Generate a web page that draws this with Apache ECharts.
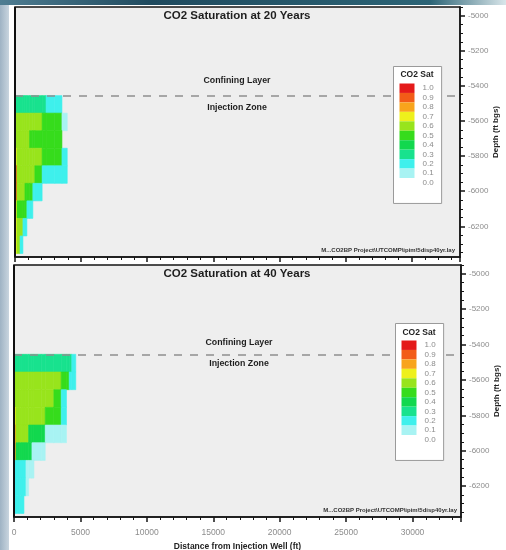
<!DOCTYPE html>
<html><head><meta charset="utf-8">
<script src="https://cdn.jsdelivr.net/npm/echarts@6/dist/echarts.min.js"></script>
<style>html,body{margin:0;padding:0;background:#fff}#c{width:506px;height:550px}</style>
</head><body><div id="c"></div>
<script>
// ---- data ----
const titles = ['CO2 Saturation at 20 Years', 'CO2 Saturation at 40 Years'];
const colEdges = [0, 150, 380, 600, 750, 900, 1100, 1350, 1500, 2050, 2350, 3000, 3550, 3950, 4150, 4350, 4650]; // ft from well
const layerEdges = [-5455, -5555, -5655, -5755, -5855, -5955, -6055, -6155, -6255, -6355]; // depth ft bgs
const confiningDepth = -5455;
const sat20 = [
  [0.3,0.3,0.3,0.3,0.3,0.3,0.3,0.3,0.3,0.3,0.2,0.2,0,0,0,0],
  [0.6,0.6,0.6,0.6,0.6,0.6,0.6,0.6,0.6,0.5,0.5,0.5,0.1,0,0,0],
  [0.6,0.6,0.6,0.6,0.6,0.6,0.5,0.5,0.5,0.5,0.5,0.5,0,0,0,0],
  [0.7,0.6,0.6,0.6,0.6,0.6,0.6,0.6,0.6,0.5,0.5,0.5,0.2,0,0,0],
  [0.9,0.6,0.6,0.6,0.6,0.6,0.6,0.6,0.5,0.2,0.2,0.2,0.2,0,0,0],
  [0.9,0.6,0.6,0.6,0.5,0.5,0.5,0.2,0.2,0,0,0,0,0,0,0],
  [0.7,0.5,0.5,0.5,0.5,0.2,0.2,0,0,0,0,0,0,0,0,0],
  [0.7,0.6,0.6,0.2,0.2,0,0,0,0,0,0,0,0,0,0,0],
  [0.7,0.6,0.2,0,0,0,0,0,0,0,0,0,0,0,0,0]
];
const sat40 = [
  [0.3,0.3,0.3,0.3,0.3,0.3,0.3,0.3,0.3,0.3,0.3,0.3,0.3,0.3,0.3,0.2],
  [0.6,0.6,0.6,0.6,0.6,0.6,0.6,0.6,0.6,0.6,0.6,0.6,0.5,0.5,0.2,0.2],
  [0.6,0.6,0.6,0.6,0.6,0.6,0.6,0.6,0.6,0.6,0.6,0.5,0.2,0,0,0],
  [0.7,0.6,0.6,0.6,0.6,0.6,0.6,0.6,0.6,0.6,0.5,0.5,0.2,0,0,0],
  [0.8,0.6,0.6,0.6,0.6,0.6,0.4,0.4,0.4,0.4,0.1,0.1,0.1,0,0,0],
  [0.8,0.4,0.4,0.4,0.4,0.4,0.4,0.1,0.1,0.1,0,0,0,0,0,0],
  [0.2,0.2,0.2,0.2,0.2,0.1,0.1,0.1,0,0,0,0,0,0,0,0],
  [0.2,0.2,0.2,0.2,0.2,0.1,0,0,0,0,0,0,0,0,0,0],
  [0.2,0.2,0.2,0.2,0,0,0,0,0,0,0,0,0,0,0,0]
];
const depthTicks = [-6200, -6000, -5800, -5600, -5400, -5200, -5000];
const legendLabels = ['0.0','0.1','0.2','0.3','0.4','0.5','0.6','0.7','0.8','0.9','1.0'];
const legendColors = ['#ffffff','#a8f3f3','#3ef0ec','#18e28e','#12d84e','#36dc1c','#98e41c','#eef01c','#f8a41c','#f25c18','#e41a1a'];

// ---- build ----
const FONT = '"Liberation Sans", Arial, sans-serif';
const X_MAX = 33650, Y_MIN = -6375, Y_MAX = -4950;
function cells(sat) {
  const out = [];
  sat.forEach((row, i) => row.forEach((v, j) => {
    if (v > 0) out.push([colEdges[j], colEdges[j + 1], layerEdges[i], layerEdges[i + 1], v]);
  }));
  return out;
}
function renderCell(params, api) {
  const a = api.coord([api.value(0), api.value(2)]);
  const b = api.coord([api.value(1), api.value(3)]);
  const c = api.visual('color');
  return { type: 'rect', shape: { x: a[0], y: a[1], width: b[0] - a[0], height: b[1] - a[1] },
           style: { fill: c, stroke: c, lineWidth: 0.6 } };
}
const minorDepth = [];
for (let d = -6350; d <= -4950; d += 50) if (d % 200 !== 0) minorDepth.push(d);
const pieces = legendLabels.map((l, i) => {
  const v = i / 10;
  const p = { label: l, color: legendColors[i] };
  if (i > 0) p.gte = v - 0.05;
  if (i < 10) p.lt = v + 0.05;
  return p;
});
const plain = v => String(v);

const grids = [
  { left: 15, top: 7, width: 445, height: 250 },
  { left: 14, top: 265, width: 447, height: 252 }
];
const option = {
  animation: false,
  backgroundColor: '#ffffff',
  grid: grids.map(g => Object.assign({ show: true, outerBoundsMode: 'none', containLabel: false,
    backgroundColor: '#eeeeee', borderColor: '#151515', borderWidth: 1.5 }, g)),
  xAxis: [0, 1].map(gi => ({
    gridIndex: gi, type: 'value', min: 0, max: X_MAX, interval: 5000,
    axisLine: { show: true, onZero: false, lineStyle: { color: '#151515', width: 1.5 } },
    axisTick: { show: true, length: 5, lineStyle: { color: '#151515', width: 1.5 } },
    minorTick: { show: true, splitNumber: 5, length: 3, lineStyle: { color: '#151515', width: 1 } },
    splitLine: { show: false },
    axisLabel: { show: gi === 1, showMaxLabel: false, formatter: plain, color: '#8c8c8c', fontSize: 8.5, fontFamily: FONT, margin: 11 },
    name: gi === 1 ? 'Distance from Injection Well (ft)' : '',
    nameLocation: 'middle', nameGap: 25,
    nameTextStyle: { color: '#222', fontSize: 8.5, fontWeight: 'bold', fontFamily: FONT }
  })),
  yAxis: [],
  visualMap: [],
  series: [],
  graphic: []
};
[0, 1].forEach(gi => {
  option.yAxis.push({
    gridIndex: gi, type: 'value', position: 'right', min: Y_MIN, max: Y_MAX, z: 5,
    axisLine: { show: true, onZero: false, lineStyle: { color: '#151515', width: 1.5 } },
    axisTick: { show: true, length: 5, customValues: depthTicks, lineStyle: { color: '#151515', width: 1.5 } },
    axisLabel: { show: true, customValues: depthTicks, formatter: plain, color: '#8c8c8c', fontSize: 8, fontFamily: FONT, margin: 8 },
    splitLine: { show: false },
    name: 'Depth (ft bgs)', nameLocation: 'middle', nameRotate: 90, nameGap: 32, nameMoveOverlap: false,
    nameTextStyle: { color: '#222', fontSize: 8, fontWeight: 'bold', fontFamily: FONT }
  });
  option.yAxis.push({
    gridIndex: gi, type: 'value', position: 'right', offset: 0, min: Y_MIN, max: Y_MAX, z: 5,
    axisLine: { show: false, onZero: false },
    axisTick: { show: true, length: 3, customValues: minorDepth, lineStyle: { color: '#151515', width: 1 } },
    axisLabel: { show: false, customValues: minorDepth }, splitLine: { show: false }
  });
});
[sat20, sat40].forEach((sat, gi) => {
  option.series.push({
    type: 'custom', xAxisIndex: gi, yAxisIndex: gi * 2, z: 2,
    renderItem: renderCell,
    dimensions: ['x0', 'x1', 'y0', 'y1', 'sat'],
    encode: { x: [0, 1], y: [2, 3] },
    data: cells(sat),
    markLine: {
      silent: true, symbol: 'none', z: 4,
      label: { show: false },
      lineStyle: { type: [8, 8], color: '#8e8e8e', width: 1.5 },
      data: [
        { yAxis: confiningDepth },
        { xAxis: 0, lineStyle: { type: 'solid', color: '#101010', width: 2 } }
      ]
    }
  });
  const lg = gi === 0 ? { left: 393, top: 66 } : { left: 395, top: 323 };
  option.visualMap.push({
    type: 'piecewise', seriesIndex: gi, dimension: 4, orient: 'vertical', align: 'left', z: 20,
    left: lg.left, top: lg.top,
    itemWidth: 15, itemHeight: 9.45, itemGap: 0, itemSymbol: 'rect', textGap: 8,
    showLabel: true, selectedMode: false, pieces: pieces,
    backgroundColor: '#ffffff', borderColor: '#9a9a9a', borderWidth: 1,
    padding: [17, 8, 16, 6],
    textStyle: { color: '#8c8c8c', fontSize: 8, fontFamily: FONT }
  });
});

function txt(x, y, text, size, weight, color, align) {
  return { type: 'text', x: x, y: y, z: 100,
    style: { text: text, fill: color || '#1e1e1e', fontSize: size, fontWeight: weight || 'bold', fontFamily: FONT,
             align: align || 'center', verticalAlign: 'middle' } };
}
option.graphic = [
  { type: 'rect', shape: { x: 0, y: 0, width: 9, height: 550 }, z: 1,
    style: { fill: new echarts.graphic.LinearGradient(0, 0, 1, 0, [{ offset: 0, color: '#9fb3c4' }, { offset: 1, color: '#c9d5df' }]) } },
  { type: 'rect', shape: { x: 0, y: 0, width: 506, height: 5 }, z: 1,
    style: { fill: new echarts.graphic.LinearGradient(0, 0, 1, 0, [{ offset: 0, color: '#4f7d92' }, { offset: 0.3, color: '#1f4a5e' }, { offset: 0.85, color: '#2c6476' }, { offset: 1, color: '#d9e6ea' }]) } },
  txt(237, 16, titles[0], 11.5),
  txt(237, 274, titles[1], 11.5),
  txt(237, 81, 'Confining Layer', 8.8),
  txt(237, 108, 'Injection Zone', 8.8),
  txt(239, 343, 'Confining Layer', 8.8),
  txt(239, 364, 'Injection Zone', 8.8),
  txt(417, 75, 'CO2 Sat', 8.5),
  txt(419, 333, 'CO2 Sat', 8.5),
  txt(455, 250, 'M...CO2BP Project\\UTCOMP\\ipim\\5disp40yr.lay', 6, 'bold', '#333', 'right'),
  txt(457, 510, 'M...CO2BP Project\\UTCOMP\\ipim\\5disp40yr.lay', 6, 'bold', '#333', 'right')
];

const chart = echarts.init(document.getElementById('c'), null, { renderer: 'canvas' });
chart.setOption(option);
</script>
</body></html>
